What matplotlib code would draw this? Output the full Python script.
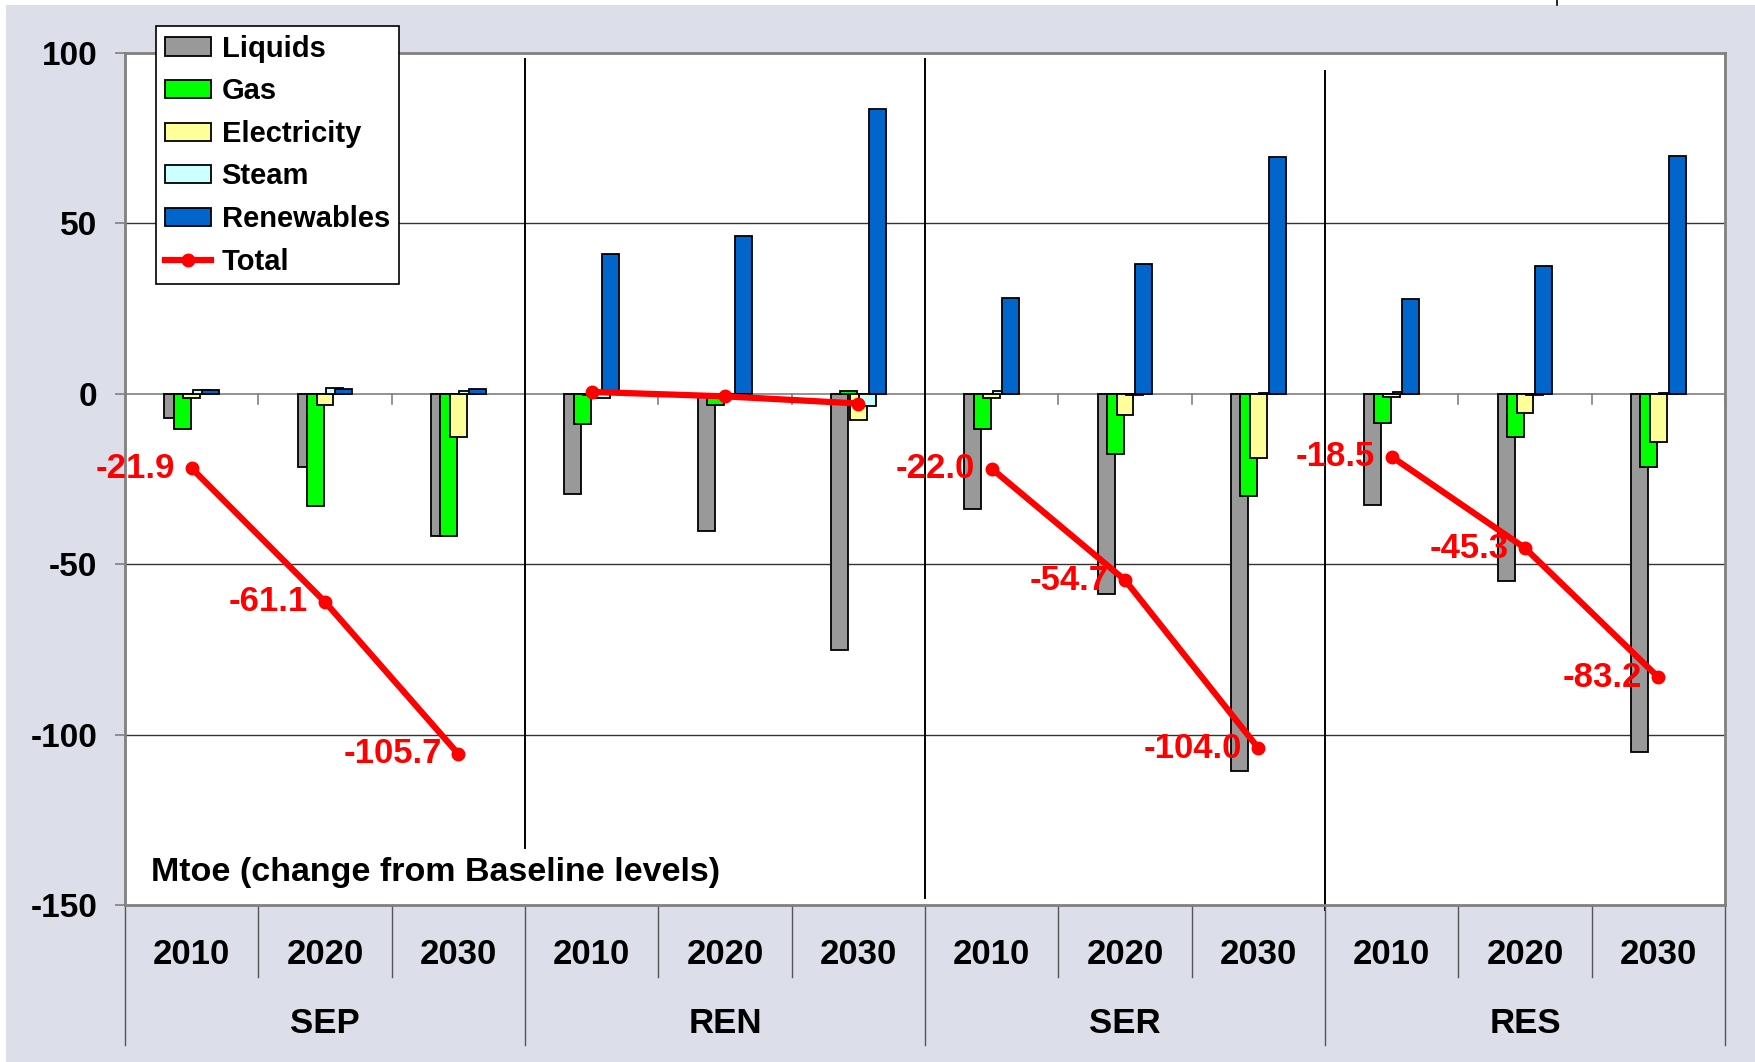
import matplotlib.pyplot as plt
import numpy as np
from matplotlib.patches import Rectangle
from matplotlib.lines import Line2D
import matplotlib.transforms as mtransforms

plt.rcParams['font.family'] = ['Liberation Sans', 'DejaVu Sans']
plt.rcParams['font.weight'] = 'bold'

# scenarios and years
groups = ['SEP', 'REN', 'SER', 'RES']
years = ['2010', '2020', '2030']

# Mtoe change from baseline, 12 categories (4 scenarios x 3 years)
liquids = [-7.1, -21.4, -41.7, -29.3, -40.4, -75.1, -33.7, -58.8, -110.7, -32.7, -55.1, -105.1]
gas = [-10.3, -32.9, -41.7, -9.0, -3.3, 0.8, -10.3, -17.8, -30.0, -8.5, -12.8, -21.5]
electricity = [-1.2, -3.3, -12.6, -0.3, -0.8, -7.6, -1.3, -6.3, -18.8, -1.0, -5.8, -14.3]
steam = [1.2, 1.6, 0.8, -1.2, -1.0, -3.7, 0.8, -0.3, 0.3, 0.5, -0.5, 0.2]
renewables = [1.0, 1.5, 1.4, 41.1, 46.3, 83.6, 28.1, 37.9, 69.3, 27.8, 37.3, 69.6]
total = [-21.9, -61.1, -105.7, 0.5, -0.8, -2.9, -22.0, -54.7, -104.0, -18.5, -45.3, -83.2]
show_total_label = [True, False, True, True]

series_names = ['Liquids', 'Gas', 'Electricity', 'Steam', 'Renewables']
series_vals = [liquids, gas, electricity, steam, renewables]
series_cols = ['#999999', '#00ff00', '#ffff99', '#ccffff', '#0066cc']

W, H = 1756, 1062
fig = plt.figure(figsize=(W / 100, H / 100), dpi=100)
fig.patch.set_facecolor('white')
# lavender background with thin white strip on top / left
fig.patches.append(Rectangle((6 / W, 0), 1, 1 - 5 / H, transform=fig.transFigure,
                             facecolor='#dcdeea', edgecolor='none', zorder=-10))
fig.add_artist(Line2D([1557 / W, 1557 / W], [1 - 5 / H, 1], color='black', lw=1.2,
                      transform=fig.transFigure))

left, right, top, bottom = 125 / W, 1725 / W, 1 - 52.7 / H, 1 - 905 / H
ax = fig.add_axes([left, bottom, right - left, top - bottom])
ax.set_facecolor('white')

n = len(liquids)
x = np.arange(n) + 0.5
offsets = [-0.142, -0.071, 0.0, 0.071, 0.142]
bw = 0.127
handles = []
for vals, off, col, name in zip(series_vals, offsets, series_cols, series_names):
    b = ax.bar(x + off, vals, width=bw, color=col, edgecolor='black', linewidth=1.3,
               label=name, zorder=3)
    handles.append(b)

# total line, one segment per scenario
for g in range(len(groups)):
    sl = slice(3 * g, 3 * g + 3)
    ln, = ax.plot(x[sl], total[sl], color='#ff0000', lw=4.5, marker='o', ms=9,
                  zorder=5, label='Total')
    if g == 0:
        handles.append(ln)
    if show_total_label[g]:
        for xi, t in zip(x[sl], total[sl]):
            ax.annotate(f'{t:.1f}', (xi, t), xytext=(-12, 0), textcoords='offset points',
                        ha='right', va='center', color='#ff0000', fontsize=25,
                        fontweight='bold', zorder=6)

ax.set_xlim(0, n)
ax.set_ylim(-150, 100)
ax.set_yticks([-150, -100, -50, 0, 50, 100])
ax.set_yticklabels(['-150', '-100', '-50', '0', '50', '100'])
ax.tick_params(axis='y', labelsize=24, length=7, width=1.2, color='#808080', pad=13)
ax.set_xticks([])

for yv in [50, -50, -100]:
    ax.axhline(yv, color='#333333', lw=1.0, zorder=1)
ax.axhline(0, color='#808080', lw=1.2, zorder=2)
# small category ticks on the zero line
for b in range(n + 1):
    ax.plot([b, b], [0, -2.9], color='#808080', lw=1.2, zorder=2)

for s in ax.spines.values():
    s.set_color('#808080')
    s.set_linewidth(2)

# scenario divider lines inside the plot
div_x = [3, 6, 9]
div_top = [98.1, 98.1, 94.6]
div_bot = [-133.3, -147.9, -151.4]
for dx, t0, b0 in zip(div_x, div_top, div_bot):
    ax.plot([dx, dx], [b0, t0], color='black', lw=1.4, zorder=2, clip_on=False)

# category axis below the plot
trans = mtransforms.blended_transform_factory(ax.transData, ax.transAxes)
for i in range(n):
    ax.text(x[i], -0.0575, years[i % 3], transform=trans, ha='center', va='center',
            fontsize=25, fontweight='bold')
for b in range(n + 1):
    low = -0.164 if b % 3 == 0 else -0.0845
    ax.plot([b, b], [0, low], transform=trans, color='#555555', lw=1.0, clip_on=False)
for g, name in enumerate(groups):
    ax.text(3 * g + 1.5, -0.1385, name, transform=trans, ha='center', va='center',
            fontsize=25, fontweight='bold')

ax.text(151 / W, 1 - 872 / H, 'Mtoe (change from Baseline levels)', transform=fig.transFigure,
        ha='left', va='center', fontsize=24.5, fontweight='bold')

leg = ax.legend(handles=handles, labels=series_names + ['Total'],
                loc='upper left', bbox_to_anchor=(156 / W, 1 - 26 / H),
                bbox_transform=fig.transFigure, borderaxespad=0, fancybox=False,
                framealpha=1, edgecolor='black', fontsize=21, handlelength=1.6,
                handleheight=0.58, labelspacing=0.5, handletextpad=0.35,
                borderpad=0.3)
leg.get_frame().set_linewidth(1.2)
leg.set_zorder(10)

fig.savefig('out.png', dpi=100, facecolor=fig.get_facecolor())
